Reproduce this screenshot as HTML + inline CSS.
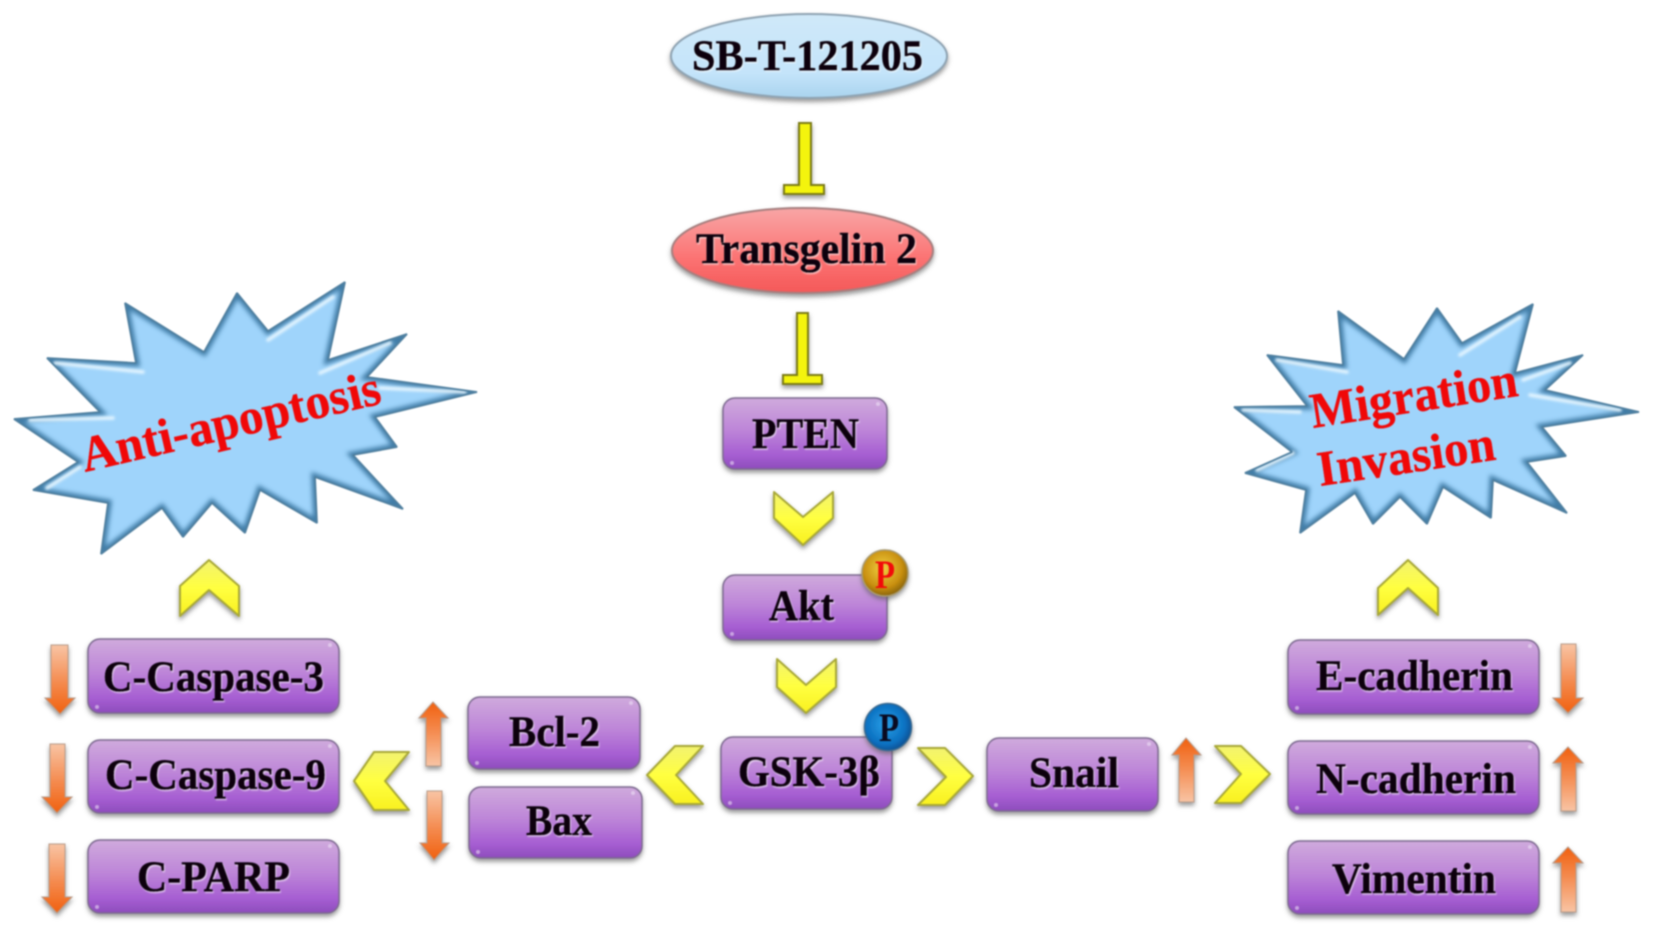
<!DOCTYPE html>
<html><head><meta charset="utf-8"><style>
html,body{margin:0;padding:0;background:#fff;width:1654px;height:939px;overflow:hidden}
svg{display:block;filter:blur(.7px)}
text{font-family:"Liberation Serif",serif;font-weight:bold}
.l{font-size:43px;fill:#0a0510;stroke:#0a0510;stroke-width:.5px;filter:url(#ts)}
.r{fill:#f00808;font-size:50px;stroke:#f00808;stroke-width:.4px}
</style></head><body>
<svg width="1654" height="939" viewBox="0 0 1654 939" xmlns="http://www.w3.org/2000/svg">
<defs>
<linearGradient id="pu" x1="0" y1="0" x2="0" y2="1"><stop offset="0" stop-color="#cfaadc"/><stop offset=".45" stop-color="#bd85d8"/><stop offset=".8" stop-color="#a65ed2"/><stop offset="1" stop-color="#8d4cbc"/></linearGradient>
<linearGradient id="bl" x1="0" y1="0" x2="0" y2="1"><stop offset="0" stop-color="#cfe8f8"/><stop offset=".7" stop-color="#c4e4fa"/><stop offset="1" stop-color="#a9d3ee"/></linearGradient>
<linearGradient id="re" x1="0" y1="0" x2="0" y2="1"><stop offset="0" stop-color="#f8a5a5"/><stop offset=".6" stop-color="#fb7272"/><stop offset="1" stop-color="#f45858"/></linearGradient>
<linearGradient id="ye" x1="0" y1="0" x2="0" y2="1"><stop offset="0" stop-color="#f2f270"/><stop offset=".5" stop-color="#ffff40"/><stop offset="1" stop-color="#f8f020"/></linearGradient>
<linearGradient id="ad" x1="0" y1="0" x2="0" y2="1"><stop offset="0" stop-color="#f8c4a4"/><stop offset=".55" stop-color="#f48a4e"/><stop offset="1" stop-color="#f0600f"/></linearGradient>
<linearGradient id="au" x1="0" y1="1" x2="0" y2="0"><stop offset="0" stop-color="#f8c4a4"/><stop offset=".55" stop-color="#f48a4e"/><stop offset="1" stop-color="#f0600f"/></linearGradient>
<radialGradient id="go" cx=".45" cy=".4" r=".6"><stop offset="0" stop-color="#f0d040"/><stop offset=".7" stop-color="#c98f10"/><stop offset="1" stop-color="#8a6510"/></radialGradient>
<radialGradient id="bu" cx=".45" cy=".45" r=".6"><stop offset="0" stop-color="#2aa0e8"/><stop offset=".7" stop-color="#0a70c0"/><stop offset="1" stop-color="#054a8a"/></radialGradient>
<filter id="sh" x="-10%" y="-15%" width="120%" height="135%"><feDropShadow dx="0" dy="3" stdDeviation="2.5" flood-color="#555" flood-opacity=".6"/></filter>
<filter id="ts" x="-5%" y="-10%" width="110%" height="125%"><feDropShadow dx="1" dy="1.5" stdDeviation=".5" flood-color="#fff" flood-opacity=".55"/></filter>
<filter id="bb"><feGaussianBlur stdDeviation="2.5"/></filter>
<filter id="hb"><feGaussianBlur stdDeviation="1.3"/></filter>
<polygon id="s1" points="125,303 204,352 237,293 268,331 345,282 328,360 407,334 367,377 477,392 375,417 397,447 353,455 403,509 315,477 317,523 260,490 245,533 212,503 183,537 162,508 101,554 108,503 33,490 78,462 14,419 100,412 47,358 136,363"/>
<polygon id="s2" points="1338,311 1404,359 1437,308 1462,343 1533,304 1515,373 1583,355 1545,390 1639,412 1542,427 1566,456 1527,462 1567,513 1493,480 1491,518 1443,487 1427,524 1400,497 1373,524 1355,493 1300,533 1306,490 1245,473 1292,452 1234,407 1307,406 1267,355 1343,365"/>
<clipPath id="c1"><use href="#s1"/></clipPath>
<clipPath id="c2"><use href="#s2"/></clipPath>
</defs>
<rect width="1654" height="939" fill="#fff"/>

<!-- stars -->
<use href="#s1" fill="#9fd4fb"/>
<g clip-path="url(#c1)"><use href="#s1" fill="none" stroke="#3f7ba6" stroke-width="7" filter="url(#bb)"/>
<g stroke="#e4f5ff" stroke-width="3.5" fill="none" filter="url(#hb)" stroke-linecap="round">
<path d="M268 340L333 297M320 373L390 343M380 388L465 392M30 420L113 418M55 363L143 372M47 488L80 467"/></g></g>
<use href="#s1" fill="none" stroke="#4f7f9f" stroke-width="1.8" stroke-linejoin="bevel"/>
<use href="#s2" fill="#9fd4fb"/>
<g clip-path="url(#c2)"><use href="#s2" fill="none" stroke="#3f7ba6" stroke-width="7" filter="url(#bb)"/>
<g stroke="#e4f5ff" stroke-width="3.5" fill="none" filter="url(#hb)" stroke-linecap="round">
<path d="M1460 355L1520 317M1523 380L1570 363M1530 395L1620 410M1243 410L1300 412M1277 360L1347 372M1257 470L1293 453"/></g></g>
<use href="#s2" fill="none" stroke="#4f7f9f" stroke-width="1.8" stroke-linejoin="bevel"/>
<text class="r" transform="translate(85 472) rotate(-13)" textLength="306" lengthAdjust="spacingAndGlyphs">Anti-apoptosis</text>
<text class="r" transform="translate(1313 428) rotate(-8.9)" textLength="209" lengthAdjust="spacingAndGlyphs">Migration</text>
<text class="r" transform="translate(1320 486) rotate(-8.5)" textLength="179" lengthAdjust="spacingAndGlyphs">Invasion</text>

<!-- ellipses -->
<ellipse cx="809" cy="56" rx="138" ry="42" fill="url(#bl)" stroke="#8fa3b2" stroke-width="2" filter="url(#sh)"/>
<ellipse cx="802.500" cy="250.500" rx="130.500" ry="42.500" fill="url(#re)" stroke="#a67f7f" stroke-width="2" filter="url(#sh)"/>
<text class="l" x="692" y="70" textLength="231" lengthAdjust="spacingAndGlyphs">SB-T-121205</text>
<text class="l" x="696" y="263" textLength="221" lengthAdjust="spacingAndGlyphs">Transgelin 2</text>

<!-- inhibition bars -->
<g fill="#f4f410" stroke="#7c7c18" stroke-width="2" filter="url(#sh)">
<path d="M799 123H811V185H824V194H784V185H799Z"/>
<path d="M797 313H808V375H822V384H783V375H797Z"/>
</g>

<!-- boxes -->
<g fill="url(#pu)" stroke="#7d6a90" stroke-width="1.5" filter="url(#sh)">
<rect x="723" y="398" width="164" height="71" rx="12"/>
<rect x="723" y="575" width="164" height="65" rx="12"/>
<rect x="721" y="737" width="171" height="72" rx="12"/>
<rect x="88" y="639" width="251" height="74" rx="12"/>
<rect x="88" y="740" width="251" height="73" rx="12"/>
<rect x="88" y="840" width="251" height="73" rx="12"/>
<rect x="468" y="697" width="172" height="72" rx="12"/>
<rect x="469" y="787" width="173" height="71" rx="12"/>
<rect x="987" y="738" width="171" height="73" rx="12"/>
<rect x="1288" y="640" width="251" height="74" rx="12"/>
<rect x="1288" y="741" width="251" height="73" rx="12"/>
<rect x="1288" y="841" width="251" height="73" rx="12"/>
</g>
<g fill="#f0e4f8" opacity=".55">
<circle cx="878" cy="404" r="2"/><circle cx="732" cy="463" r="2"/><circle cx="732" cy="634" r="2"/><circle cx="730" cy="803" r="2"/>
<circle cx="330" cy="645" r="2"/><circle cx="97" cy="707" r="2"/><circle cx="330" cy="746" r="2"/><circle cx="97" cy="807" r="2"/><circle cx="330" cy="846" r="2"/><circle cx="97" cy="907" r="2"/>
<circle cx="631" cy="703" r="2"/><circle cx="477" cy="763" r="2"/><circle cx="633" cy="793" r="2"/><circle cx="478" cy="852" r="2"/>
<circle cx="1149" cy="744" r="2"/><circle cx="996" cy="805" r="2"/>
<circle cx="1530" cy="646" r="2"/><circle cx="1297" cy="708" r="2"/><circle cx="1530" cy="747" r="2"/><circle cx="1297" cy="808" r="2"/><circle cx="1530" cy="847" r="2"/><circle cx="1297" cy="908" r="2"/>
</g>
<text class="l" x="752" y="448" textLength="107" lengthAdjust="spacingAndGlyphs">PTEN</text>
<text class="l" x="769" y="620" textLength="65" lengthAdjust="spacingAndGlyphs">Akt</text>
<text class="l" x="738" y="786" textLength="142" lengthAdjust="spacingAndGlyphs">GSK-3β</text>
<text class="l" x="103" y="691" textLength="221" lengthAdjust="spacingAndGlyphs">C-Caspase-3</text>
<text class="l" x="105" y="789" textLength="221" lengthAdjust="spacingAndGlyphs">C-Caspase-9</text>
<text class="l" x="137" y="891" textLength="153" lengthAdjust="spacingAndGlyphs">C-PARP</text>
<text class="l" x="509" y="746" textLength="91" lengthAdjust="spacingAndGlyphs">Bcl-2</text>
<text class="l" x="526" y="835" textLength="66" lengthAdjust="spacingAndGlyphs">Bax</text>
<text class="l" x="1029" y="787" textLength="90" lengthAdjust="spacingAndGlyphs">Snail</text>
<text class="l" x="1316" y="690" textLength="197" lengthAdjust="spacingAndGlyphs">E-cadherin</text>
<text class="l" x="1316" y="793" textLength="200" lengthAdjust="spacingAndGlyphs">N-cadherin</text>
<text class="l" x="1332" y="893" textLength="164" lengthAdjust="spacingAndGlyphs">Vimentin</text>

<!-- P badges -->
<circle cx="885" cy="573" r="23" fill="url(#go)" stroke="#a89a70" stroke-width="1.5" filter="url(#sh)"/>
<text x="875" y="588" style="font-size:40px;fill:#f20a0a" textLength="20" lengthAdjust="spacingAndGlyphs">P</text>
<circle cx="888" cy="727" r="23.500" fill="url(#bu)" stroke="#3a6a90" stroke-width="1.5" filter="url(#sh)"/>
<text x="879" y="741" style="font-size:40px;fill:#0a0a20" textLength="20" lengthAdjust="spacingAndGlyphs">P</text>

<!-- chevrons -->
<g fill="url(#ye)" stroke="#a8a838" stroke-width="2" stroke-linejoin="round" filter="url(#sh)">
<polygon points="774,492 803,517 833,492 833,518 803,545 774,518"/>
<polygon points="777,659 806,685 836,659 836,687 806,713 777,687"/>
<polygon points="647,775 675,746 703,746 676,775 703,804 675,804"/>
<polygon points="973,776 945,748 918,748 946,777 918,805 945,805"/>
<polygon points="354,781 374,752 409,752 385,781 409,810 374,810"/>
<polygon points="1270,774 1241,746 1215,746 1241,774 1215,803 1241,803"/>
<polygon points="209,560 239,586 239,616 209,590 180,616 180,586"/>
<polygon points="1408,560 1438,588 1438,615 1408,588 1378,615 1378,588"/>
</g>

<!-- arrows -->
<g stroke="#b89a88" stroke-width="1" filter="url(#sh)">
<polygon fill="url(#ad)" points="51,645 68,645 68,698 75,698 60,714 45,698 51,698"/>
<polygon fill="url(#ad)" points="50,744 65,744 65,797 72,797 57,813 42,797 50,797"/>
<polygon fill="url(#ad)" points="49,844 65,844 65,897 72,897 57,913 42,897 49,897"/>
<polygon fill="url(#au)" points="426,766 441,766 441,718 448,718 433,702 419,718 426,718"/>
<polygon fill="url(#ad)" points="427,791 442,791 442,843 449,843 434,860 420,843 427,843"/>
<polygon fill="url(#au)" points="1179,802 1194,802 1194,755 1201,755 1186,738 1172,755 1179,755"/>
<polygon fill="url(#ad)" points="1561,644 1576,644 1576,698 1583,698 1568,713 1553,698 1561,698"/>
<polygon fill="url(#au)" points="1561,811 1576,811 1576,763 1583,763 1568,747 1553,763 1561,763"/>
<polygon fill="url(#au)" points="1561,912 1576,912 1576,863 1583,863 1568,847 1553,863 1561,863"/>
</g>
</svg>
</body></html>
